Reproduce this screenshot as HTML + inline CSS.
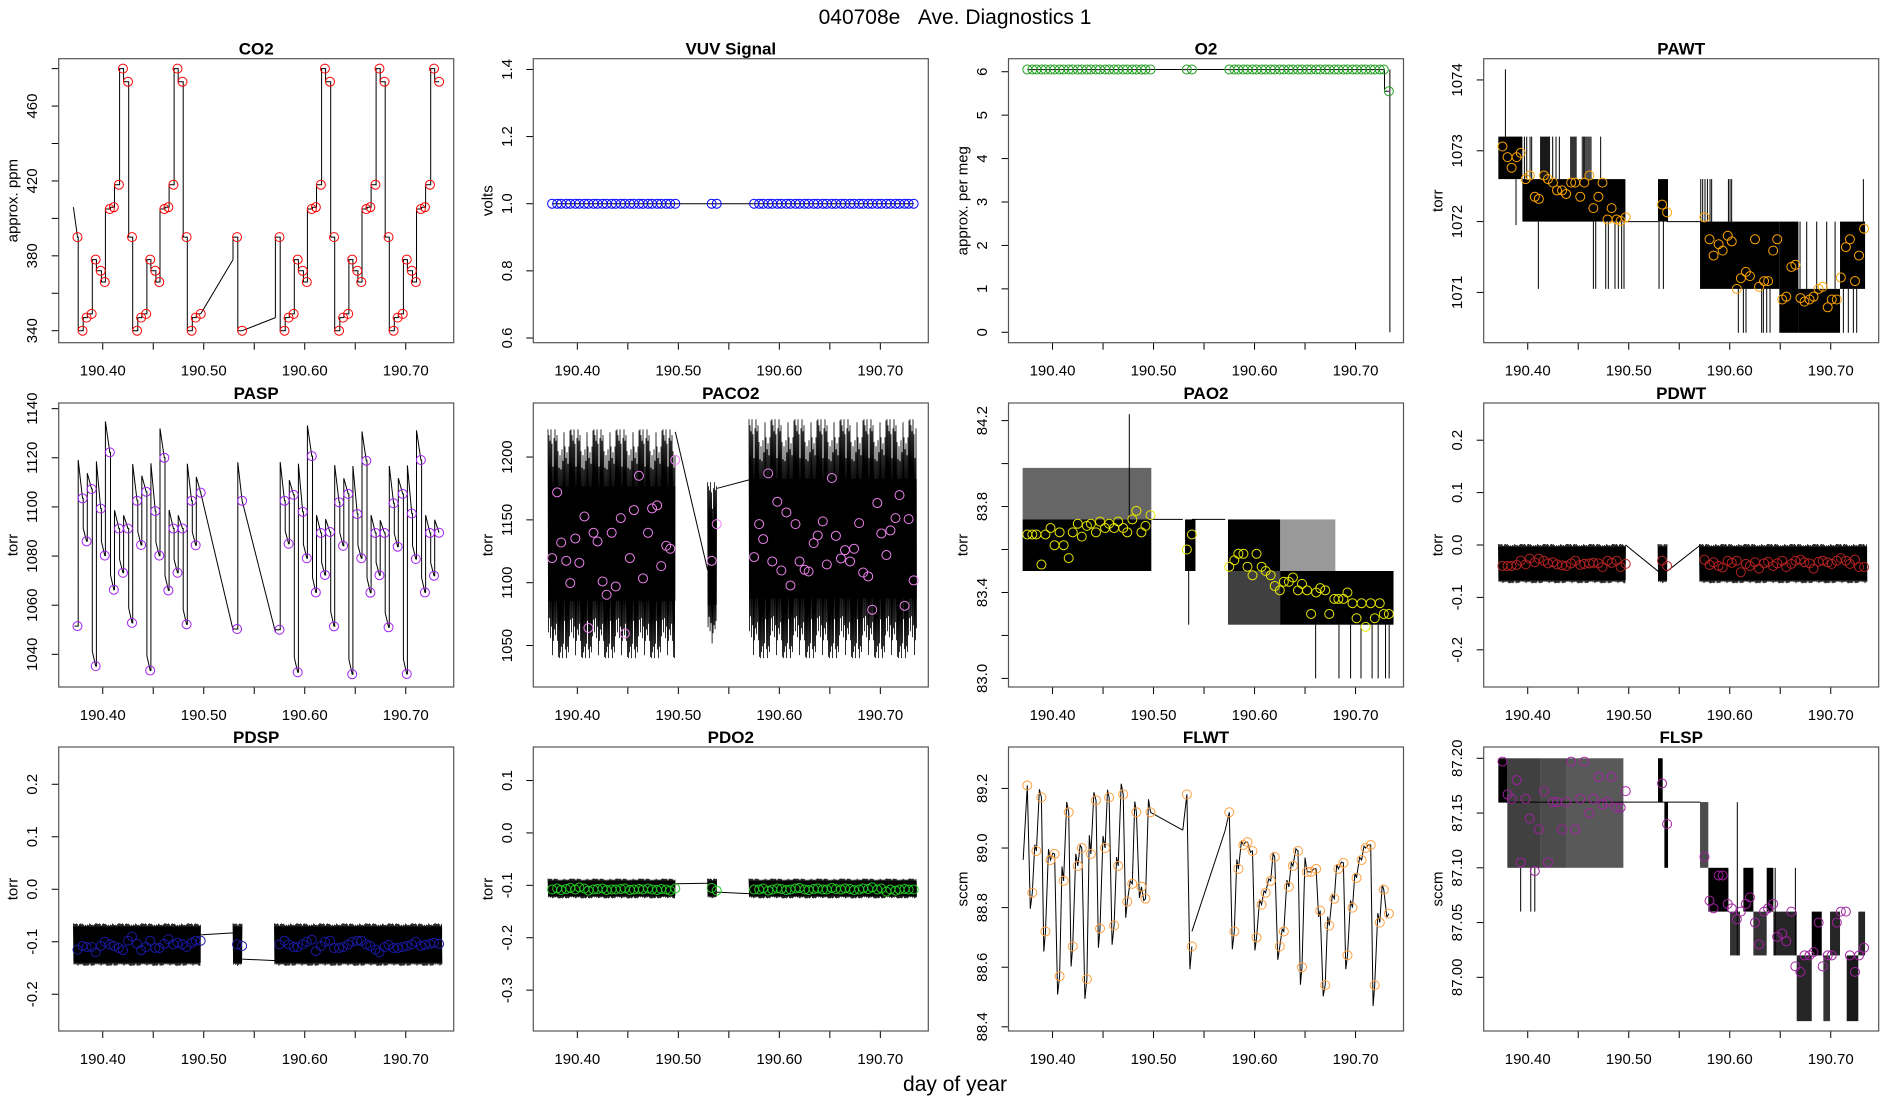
<!DOCTYPE html>
<html><head><meta charset="utf-8"><title>040708e Ave. Diagnostics 1</title>
<style>
html,body{margin:0;padding:0;background:#fff;}
svg{display:block;font-family:"Liberation Sans",Arial,sans-serif;}
</style></head>
<body>
<svg id="chart" width="1900" height="1100" viewBox="0 0 1900 1100" xmlns="http://www.w3.org/2000/svg">
<rect x="0" y="0" width="1900" height="1100" fill="#fff"/>
<text x="955" y="24" font-size="21" text-anchor="middle" fill="#000">040708e&#160;&#160;&#160;Ave. Diagnostics 1</text>
<text x="955" y="1091" font-size="21" text-anchor="middle" fill="#000">day of year</text>
</svg>
<script>
// ---------- shared sample times (day of year) ----------
const times = [190.375,190.380,190.384,190.389,190.393,190.398,190.402,190.407,190.411,190.416,190.420,190.425,190.429,190.434,190.438,190.443,190.447,190.452,190.456,190.461,190.465,190.470,190.474,190.479,190.483,190.488,190.492,190.497,
190.533,190.538,
190.575,190.580,190.584,190.589,190.593,190.598,190.602,190.607,190.611,190.616,190.620,190.625,190.629,190.634,190.638,190.643,190.647,190.652,190.656,190.661,190.665,190.670,190.674,190.679,190.683,190.688,190.692,190.697,190.701,190.706,190.710,190.715,190.719,190.724,190.728,190.733];
const segStarts = [0,28,30];
const segEnds = [27,29,65];
const gapTimes = [190.497,190.529,190.538,190.571];
const xTicks = [190.40,190.45,190.50,190.55,190.60,190.65,190.70];
const xTickLabels = ["190.40","","190.50","","190.60","","190.70"];

// ---------- series values ----------
const co2Vals = [390,340,347,349,378,372,366,405,406,418,480,473,390,340,347,349,378,372,366,405,406,418,480,473,390,340,347,349,
390,340,
390,340,347,349,378,372,366,405,406,418,480,473,390,340,347,349,378,372,366,405,406,418,480,473,390,340,347,349,378,372,366,405,406,418,480,473];
const co2Gap = [349,378,340,347];
const vuvVals = [1,1,1,1,1,1,1,1,1,1,1,1,1,1,1,1,1,1,1,1,1,1,1,1,1,1,1,1, 1,1, 1,1,1,1,1,1,1,1,1,1,1,1,1,1,1,1,1,1,1,1,1,1,1,1,1,1,1,1,1,1,1,1,1,1,1,1];
const vuvGap = [1,1,1,1];
const o2Vals = [6.05,6.05,6.05,6.05,6.05,6.05,6.05,6.05,6.05,6.05,6.05,6.05,6.05,6.05,6.05,6.05,6.05,6.05,6.05,6.05,6.05,6.05,6.05,6.05,6.05,6.05,6.05,6.05, 6.05,6.05, 6.05,6.05,6.05,6.05,6.05,6.05,6.05,6.05,6.05,6.05,6.05,6.05,6.05,6.05,6.05,6.05,6.05,6.05,6.05,6.05,6.05,6.05,6.05,6.05,6.05,6.05,6.05,6.05,6.05,6.05,6.05,6.05,6.05,6.05,6.05,5.55];
const o2Gap = [6.05,6.05,6.05,6.05];
const o2EndDrop = [190.734, 0];
const pawtVals = [1073.06,1072.91,1072.76,1072.91,1072.97,1072.60,1072.65,1072.35,1072.32,1072.65,1072.60,1072.55,1072.44,1072.44,1072.39,1072.55,1072.55,1072.35,1072.55,1072.65,1072.19,1072.35,1072.55,1072.03,1072.19,1072.03,1072.01,1072.06,
1072.24,1072.13,
1072.06,1071.75,1071.52,1071.68,1071.59,1071.80,1071.72,1071.05,1071.20,1071.29,1071.23,1071.75,1071.08,1071.16,1071.16,1071.59,1071.75,1070.90,1070.94,1071.36,1071.39,1070.92,1070.87,1070.90,1070.94,1071.05,1071.08,1070.79,1070.90,1070.90,1071.21,1071.64,1071.75,1071.16,1071.52,1071.90];
const pawtGap = [1072.0,1072.0,1072.0,1072.0];
const pawtBandT0 = [190.3709,190.3947,190.4122,190.4419,190.4534,190.5290,190.5706,190.6491,190.6680,190.7092];
const pawtBandT1 = [190.3947,190.4967,190.4221,190.4485,190.4633,190.5389,190.6491,190.6680,190.7092,190.7340];
const pawtBandLo = [1072.6,1072.0,1072.6,1072.6,1072.6,1072.0,1071.05,1070.43,1070.43,1071.05];
const pawtBandHi = [1073.2,1072.6,1073.2,1073.2,1073.2,1072.6,1072.0,1072.0,1071.05,1072.0];
const pawtBandOp = [1,1,0.9,0.8,0.7,1,1,1,1,1];
const pawtSpikeT = [190.3779,190.3967,190.3990,190.4023,190.4039,190.4247,190.4280,190.4313,190.4557,190.4722,190.3884,190.4105,190.4650,190.4673,190.4772,190.4798,190.4864,190.4897,190.4930,190.4953,190.5300,190.5343,190.5713,190.5732,190.5755,190.5779,190.5805,190.5821,190.5987,190.6003,190.6019,190.6085,190.6135,190.6161,190.6316,190.6333,190.6366,190.6399,190.7125,190.7174,190.7224,190.7257,190.6696,190.6762,190.6861,190.6960,190.7043,190.7323];
const pawtSpikeLo = [1073.2,1072.6,1072.6,1072.6,1072.6,1072.6,1072.6,1072.6,1072.6,1072.6,1071.95,1071.05,1071.05,1071.05,1071.05,1071.05,1071.05,1071.05,1071.05,1071.05,1071.05,1071.05,1072.0,1072.0,1072.0,1072.0,1072.0,1072.0,1072.0,1072.0,1072.0,1070.43,1070.43,1070.43,1070.43,1070.43,1070.43,1070.43,1070.43,1070.43,1070.43,1070.43,1071.05,1071.05,1071.05,1071.05,1071.05,1072.0];
const pawtSpikeHi = [1074.15,1073.2,1073.2,1073.2,1073.2,1073.2,1073.2,1073.2,1073.2,1073.2,1072.6,1072.0,1072.0,1072.0,1072.0,1072.0,1072.0,1072.0,1072.0,1072.0,1072.0,1072.0,1072.6,1072.6,1072.6,1072.6,1072.6,1072.6,1072.6,1072.6,1072.6,1071.05,1071.05,1071.05,1071.05,1071.05,1071.05,1071.05,1071.05,1071.05,1071.05,1071.05,1072.0,1072.0,1072.0,1072.0,1072.0,1072.6];
const paspVals = [1051.5,1103.5,1086.0,1107.3,1035.2,1099.3,1080.2,1122.2,1066.3,1091.2,1073.2,1091.2,1052.8,1102.5,1084.5,1106.2,1033.4,1098.3,1080.2,1120.0,1066.0,1091.2,1073.2,1091.2,1052.2,1102.5,1084.4,1105.8,
1050.3,1102.5,
1050.0,1102.5,1085.0,1104.9,1032.7,1098.0,1079.1,1120.7,1065.2,1089.4,1072.3,1089.8,1051.4,1101.9,1084.2,1105.3,1031.9,1097.1,1079.1,1118.8,1065.1,1089.4,1072.2,1089.4,1051.0,1101.5,1083.8,1105.3,1032.0,1097.3,1078.8,1119.1,1065.2,1089.4,1072.0,1089.5];
const paspGap = [1105.8,1050.0,1102.5,1049.0];
const paco2Vals = [1119.6,1171.9,1132.0,1117.4,1099.7,1135.2,1115.8,1152.7,1064.0,1139.7,1132.8,1101.0,1090.4,1139.7,1097.0,1151.4,1059.6,1119.6,1157.8,1185.1,1103.4,1139.7,1159.1,1161.5,1113.2,1129.4,1127.0,1197.6,
1117.4,1146.6,
1120.4,1146.6,1134.7,1187.0,1116.9,1164.4,1109.7,1155.9,1097.8,1146.6,1116.9,1110.3,1108.9,1131.5,1137.6,1148.8,1114.5,1183.3,1137.3,1119.3,1125.9,1116.9,1127.0,1147.4,1108.1,1105.0,1078.5,1163.4,1139.2,1122.0,1141.6,1151.4,1169.7,1081.6,1150.6,1101.8];
const paco2Gap = [1220,1110,1175,1182];
const paco2NoiseLo = [1040,1050,1040];
const paco2NoiseHi = [1222,1180,1230];
const pao2Vals = [83.67,83.67,83.67,83.53,83.67,83.70,83.62,83.68,83.62,83.56,83.68,83.72,83.66,83.71,83.72,83.68,83.73,83.70,83.72,83.70,83.73,83.70,83.68,83.74,83.78,83.68,83.71,83.76,
83.60,83.67,
83.52,83.55,83.58,83.58,83.52,83.48,83.58,83.52,83.50,83.48,83.43,83.41,83.45,83.45,83.47,83.41,83.44,83.41,83.30,83.40,83.42,83.41,83.30,83.37,83.37,83.37,83.40,83.35,83.28,83.35,83.24,83.35,83.28,83.35,83.30,83.30];
const pao2Gap = [83.74,83.74,83.74,83.74];
const pao2BandT0 = [190.3704,190.3704,190.5312,190.5737,190.5737,190.6253,190.6253];
const pao2BandT1 = [190.4978,190.4978,190.5415,190.6253,190.6253,190.7376,190.6800];
const pao2BandLo = [83.50,83.74,83.50,83.50,83.25,83.25,83.50];
const pao2BandHi = [83.74,83.98,83.74,83.74,83.50,83.50,83.74];
const pao2BandOp = [1,0.6,1,1,0.75,1,0.4];
const pao2SpikeT = [190.4760,190.5348,190.6605,190.6836,190.6951,190.7054,190.7164,190.7224,190.7297,190.7333];
const pao2SpikeLo = [83.74,83.25,83.0,83.0,83.0,83.0,83.0,83.0,83.0,83.0];
const pao2SpikeHi = [84.23,83.50,83.25,83.25,83.25,83.25,83.25,83.25,83.25,83.25];
const pdwtVals = [-0.040,-0.040,-0.040,-0.038,-0.030,-0.037,-0.026,-0.033,-0.026,-0.030,-0.035,-0.033,-0.037,-0.039,-0.040,-0.035,-0.030,-0.038,-0.036,-0.035,-0.034,-0.035,-0.042,-0.030,-0.034,-0.030,-0.042,-0.036,
-0.030,-0.040,
-0.028,-0.038,-0.033,-0.040,-0.043,-0.030,-0.034,-0.030,-0.052,-0.036,-0.040,-0.033,-0.045,-0.035,-0.032,-0.040,-0.035,-0.030,-0.042,-0.036,-0.030,-0.028,-0.033,-0.035,-0.045,-0.032,-0.030,-0.033,-0.036,-0.030,-0.025,-0.030,-0.036,-0.028,-0.042,-0.042];
const pdwtGap = [0.0,-0.05,-0.05,0.0];
const pdwtNoiseLo = [-0.073,-0.073,-0.073];
const pdwtNoiseHi = [0.002,0.002,0.002];
const pdspVals = [-0.115,-0.108,-0.110,-0.110,-0.120,-0.108,-0.100,-0.105,-0.108,-0.112,-0.116,-0.098,-0.090,-0.104,-0.116,-0.110,-0.098,-0.112,-0.112,-0.104,-0.095,-0.105,-0.102,-0.105,-0.110,-0.102,-0.098,-0.098,
-0.105,-0.108,
-0.105,-0.098,-0.105,-0.110,-0.110,-0.105,-0.100,-0.096,-0.118,-0.108,-0.100,-0.098,-0.112,-0.112,-0.110,-0.105,-0.100,-0.098,-0.098,-0.105,-0.108,-0.115,-0.120,-0.110,-0.106,-0.112,-0.112,-0.110,-0.108,-0.105,-0.100,-0.108,-0.106,-0.104,-0.102,-0.104];
const pdspGap = [-0.087,-0.083,-0.133,-0.136];
const pdspNoiseLo = [-0.146,-0.146,-0.146];
const pdspNoiseHi = [-0.065,-0.065,-0.065];
const pdo2Vals = [-0.108,-0.106,-0.109,-0.107,-0.105,-0.108,-0.104,-0.106,-0.110,-0.108,-0.107,-0.106,-0.109,-0.108,-0.108,-0.107,-0.106,-0.109,-0.108,-0.107,-0.108,-0.106,-0.108,-0.109,-0.107,-0.108,-0.110,-0.106,
-0.105,-0.110,
-0.108,-0.108,-0.106,-0.110,-0.108,-0.106,-0.107,-0.109,-0.108,-0.106,-0.105,-0.108,-0.109,-0.107,-0.106,-0.108,-0.108,-0.105,-0.107,-0.108,-0.106,-0.107,-0.109,-0.108,-0.106,-0.107,-0.104,-0.108,-0.106,-0.112,-0.108,-0.110,-0.108,-0.107,-0.108,-0.108];
const pdo2Gap = [-0.097,-0.096,-0.113,-0.116];
const pdo2NoiseLo = [-0.125,-0.125,-0.125];
const pdo2NoiseHi = [-0.087,-0.087,-0.087];
const flwtVals = [89.21,88.85,88.99,89.17,88.72,88.96,88.98,88.57,88.89,89.12,88.67,88.94,89.00,88.56,88.98,89.16,88.73,89.00,89.17,88.74,88.94,89.18,88.82,88.88,89.12,88.87,88.83,89.12,
89.18,88.67,
89.12,88.72,88.93,89.01,89.02,88.99,88.70,88.81,88.85,88.89,88.97,88.67,88.72,88.87,88.94,88.99,88.60,88.92,88.92,88.93,88.79,88.54,88.74,88.83,88.93,88.95,88.64,88.80,88.90,88.96,89.00,89.01,88.54,88.75,88.86,88.78];
const flwtGap = [89.12,89.06,88.72,89.06];
const flspVals = [87.197,87.167,87.163,87.180,87.105,87.163,87.145,87.097,87.135,87.170,87.105,87.160,87.160,87.135,87.160,87.197,87.135,87.163,87.197,87.150,87.163,87.183,87.158,87.160,87.183,87.155,87.155,87.170,
87.177,87.140,
87.110,87.070,87.063,87.093,87.093,87.067,87.063,87.053,87.060,87.067,87.073,87.050,87.030,87.060,87.063,87.067,87.037,87.040,87.033,87.060,87.010,87.005,87.020,87.020,87.023,87.050,87.010,87.020,87.020,87.050,87.060,87.060,87.020,87.005,87.020,87.027];
const flspGap = [87.16,87.16,87.16,87.16];
const flspBandT0 = [190.3709,190.3798,190.4122,190.4386,190.5290,190.5353,190.5706,190.5788,190.6003,190.6135,190.6234,190.6366,190.6432,190.6663,190.6812,190.6927,190.6993,190.7158,190.7273];
const flspBandT1 = [190.3798,190.4122,190.4386,190.4947,190.5336,190.5389,190.5788,190.5987,190.6102,190.6234,190.6366,190.6432,190.6663,190.6812,190.6911,190.6993,190.7092,190.7273,190.7340];
const flspBandLo = [87.16,87.10,87.10,87.10,87.16,87.10,87.10,87.06,87.02,87.06,87.02,87.06,87.02,86.96,87.02,86.96,87.02,86.96,87.02];
const flspBandHi = [87.20,87.20,87.20,87.20,87.20,87.16,87.16,87.10,87.06,87.10,87.06,87.10,87.06,87.02,87.06,87.02,87.06,87.02,87.06];
const flspBandOp = [1,0.75,0.7,0.65,1,1,0.7,1,0.8,1,0.8,1,0.85,0.85,1,0.8,0.85,0.9,0.85];
const flspSpikeT = [190.3930,190.4030,190.4070,190.6075,190.6450,190.6650];
const flspSpikeLo = [87.06,87.06,87.06,87.02,87.02,87.02];
const flspSpikeHi = [87.10,87.10,87.10,87.16,87.10,87.10];

// ---------- layout / style (not data) ----------
const NS = 'http://www.w3.org/2000/svg';
const svg = document.getElementById('chart');
const X0 = 190.3564, PXD = 1010, W = 395, H = 284;
const COLS = [58.7, 533.3, 1008.5, 1483.7], ROWS = [58.7, 403, 747];
const TEX = [1,0.55,0.9,0.3,0.8,0.65,1,0.45,0.75,0.95,0.35,0.7,0.85,0.5,1,0.6,0.8,0.4,0.9,0.7,0.62,0.98,0.33];

function el(tag, attrs, parent) {
  const e = document.createElementNS(NS, tag);
  for (const k in attrs) e.setAttribute(k, attrs[k]);
  parent.appendChild(e);
  return e;
}

function makePanel(p) {
  const g = el('g', {}, svg);
  
  
  const left = p.left, top = p.top, bottom = top + H;
  const xs = t => left + (t - X0) * PXD;
  const ys = v => top + (p.yMax - v) / (p.yMax - p.yMin) * H;
  const plot = el('g', {}, g);
  
  
  const tt = el('text', {x: left + W / 2, y: top - 4, 'font-size': 17, 'font-weight': 'bold', 'text-anchor': 'middle'}, g);
  tt.textContent = p.title;
  
  
  const yl = el('text', {x: left - 41, y: top + H / 2, 'font-size': 15, 'text-anchor': 'middle', transform: 'rotate(-90 ' + (left - 41) + ' ' + (top + H / 2) + ')'}, g);
  yl.textContent = p.ylab;
  
  
  const xa = el('g', {}, g);
  
  
  xTicks.forEach((t, i) => {
    const x = xs(t);
    const tk = el('line', {x1: x, x2: x, y1: bottom, y2: bottom + 7, stroke: '#000', 'stroke-width': 1}, xa);
    
    
    if (xTickLabels[i]) {
      const lb = el('text', {x: x, y: bottom + 33, 'font-size': 15, 'text-anchor': 'middle'}, xa);
      lb.textContent = xTickLabels[i];
      
      
    }
  });
  const ya = el('g', {}, g);
  
  
  p.yTicks.forEach((v, i) => {
    const y = ys(v);
    const tk = el('line', {x1: left - 7, x2: left, y1: y, y2: y, stroke: '#000', 'stroke-width': 1}, ya);
    
    
    if (p.yLabels[i]) {
      const lb = el('text', {x: left - 21.5, y: y, 'font-size': 15, 'text-anchor': 'middle', transform: 'rotate(-90 ' + (left - 21.5) + ' ' + y + ')'}, ya);
      lb.textContent = p.yLabels[i];
      
      
    }
  });
  return {g: plot, xs, ys, left, top, bottom, p};
}

function drawBox(P) {
  const b = el('rect', {x: P.left, y: P.top, width: W, height: H, fill: 'none', stroke: '#555', 'stroke-width': 1.2}, P.g.parentNode);
  
  
}

function drawGapLines(P, gap) {
  [[0, 1], [2, 3]].forEach(([a, b]) => {
    const l = el('line', {x1: P.xs(gapTimes[a]), y1: P.ys(gap[a]), x2: P.xs(gapTimes[b]), y2: P.ys(gap[b]), stroke: '#000', 'stroke-width': 1}, P.g);
    
    
  });
}

function drawCircles(P, vals, color) {
  const cg = el('g', {}, P.g);
  
  
  vals.forEach((v, i) => {
    const c = el('circle', {cx: P.xs(times[i]), cy: P.ys(v), r: 4.5, fill: 'none', stroke: color, 'stroke-width': 1}, cg);
    
    
  });
}

function drawStepLine(P, vals, gap, over, startPt) {
  const dt = 0.00452;
  let d = '';
  segStarts.forEach((s, k) => {
    const e = segEnds[k];
    let pts = [];
    if (k === 0 && startPt) pts.push([startPt[0], startPt[1]]);
    if (k > 0) { pts.push([gapTimes[2 * k - 1], gap[2 * k - 1]]); pts.push([gapTimes[2 * k - 1], vals[s]]); }
    pts.push([times[s], vals[s]]);
    for (let i = s; i < e; i++) {
      const a = vals[i], b = vals[i + 1], tj = times[i] + 0.15 * dt;
      let peak = b;
      if (over) peak = b > a ? b + over * (b - a) : b + Math.min(6, over * (a - b));
      pts.push([tj, a]); pts.push([tj, peak]); pts.push([times[i + 1], b]);
    }
    d += 'M' + pts.map(q => P.xs(q[0]).toFixed(1) + ',' + P.ys(q[1]).toFixed(1)).join('L');
  });
  const path = el('path', {d: d, fill: 'none', stroke: '#000', 'stroke-width': 1}, P.g);
  
  
  drawGapLines(P, gap);
}

function drawZigLine(P, vals, gap, start) {
  let d = '';
  segStarts.forEach((s, k) => {
    const e = segEnds[k];
    let pts = [];
    if (k === 0 && start) pts.push(start);
    if (k > 0) pts.push([gapTimes[2 * k - 1], gap[2 * k - 1]]);
    for (let i = s; i <= e; i++) {
      pts.push([times[i], vals[i]]);
      if (i < e) {
        const a = vals[i], b = vals[i + 1];
        pts.push([times[i] + 0.6 * (times[i + 1] - times[i]), b + 0.15 * (b - a)]);
      }
    }
    d += 'M' + pts.map(q => P.xs(q[0]).toFixed(1) + ',' + P.ys(q[1]).toFixed(1)).join('L');
  });
  const path = el('path', {d: d, fill: 'none', stroke: '#000', 'stroke-width': 1}, P.g);
  
  
  drawGapLines(P, gap);
}

function drawBands(P, t0, t1, lo, hi, op) {
  t0.forEach((t, i) => {
    const x = P.xs(t), y = P.ys(hi[i]);
    const r = el('rect', {x: x, y: y, width: Math.max(1, P.xs(t1[i]) - x), height: P.ys(lo[i]) - y, fill: '#000', 'fill-opacity': op[i]}, P.g);
    
    
  });
}

function drawSpikes(P, ts, lo, hi) {
  ts.forEach((t, i) => {
    const x = P.xs(t);
    const l = el('line', {x1: x, x2: x, y1: P.ys(lo[i]), y2: P.ys(hi[i]), stroke: '#000', 'stroke-width': 1}, P.g);
    
    
  });
}

function drawNoise(P, lo, hi, floor) {
  const segT = [[190.371, 190.497], [190.529, 190.538], [190.570, 190.736]];
  segT.forEach((st, k) => {
    const xa = P.xs(st[0]), xb = P.xs(st[1]);
    const mid = (lo[k] + hi[k]) / 2, half = (hi[k] - lo[k]) / 2;
    const core = el('rect', {x: xa, y: P.ys(mid + half * floor), width: xb - xa, height: P.ys(mid - half * floor) - P.ys(mid + half * floor), fill: '#000'}, P.g);
    
    
    let pts = [], j = 0;
    for (let x = xa; x <= xb; x += 0.5, j++) {
      const f = floor + (1 - floor) * TEX[j % TEX.length];
      const v = j % 2 ? mid - half * f : mid + half * f;
      pts.push(x.toFixed(1) + ',' + P.ys(v).toFixed(1));
    }
    const pl = el('polyline', {points: pts.join(' '), fill: 'none', stroke: '#000', 'stroke-width': 0.8}, P.g);
    
    
  });
}

// ---------- panels ----------
let P;
P = makePanel({id: 'co2', title: 'CO2', ylab: 'approx. ppm', left: COLS[0], top: ROWS[0], yMin: 333.6, yMax: 485.3,
  yTicks: [340,360,380,400,420,440,460,480], yLabels: ['340','','380','','420','','460','']});
drawStepLine(P, co2Vals, co2Gap, 0, [190.371, 406]);
drawCircles(P, co2Vals, '#ff0000'); drawBox(P);

P = makePanel({id: 'vuv-signal', title: 'VUV Signal', ylab: 'volts', left: COLS[1], top: ROWS[0], yMin: 0.586, yMax: 1.432,
  yTicks: [0.6,0.8,1.0,1.2,1.4], yLabels: ['0.6','0.8','1.0','1.2','1.4']});
drawStepLine(P, vuvVals, vuvGap, 0, null);
drawCircles(P, vuvVals, '#0000ff'); drawBox(P);

P = makePanel({id: 'o2', title: 'O2', ylab: 'approx. per meg', left: COLS[2], top: ROWS[0], yMin: -0.24, yMax: 6.3,
  yTicks: [0,1,2,3,4,5,6], yLabels: ['0','1','2','3','4','5','6']});
drawStepLine(P, o2Vals, o2Gap, 0, null);
(function () {
  const l = el('line', {x1: P.xs(o2EndDrop[0]), x2: P.xs(o2EndDrop[0]), y1: P.ys(6.05), y2: P.ys(o2EndDrop[1]), stroke: '#000', 'stroke-width': 1}, P.g);
  
  
})();
drawCircles(P, o2Vals, '#22a022'); drawBox(P);

P = makePanel({id: 'pawt', title: 'PAWT', ylab: 'torr', left: COLS[3], top: ROWS[0], yMin: 1070.29, yMax: 1074.30,
  yTicks: [1071,1072,1073,1074], yLabels: ['1071','1072','1073','1074']});
drawBands(P, pawtBandT0, pawtBandT1, pawtBandLo, pawtBandHi, pawtBandOp);
drawSpikes(P, pawtSpikeT, pawtSpikeLo, pawtSpikeHi);
drawGapLines(P, pawtGap);
drawCircles(P, pawtVals, '#ffa500'); drawBox(P);

P = makePanel({id: 'pasp', title: 'PASP', ylab: 'torr', left: COLS[0], top: ROWS[1], yMin: 1026.7, yMax: 1142.3,
  yTicks: [1040,1060,1080,1100,1120,1140], yLabels: ['1040','1060','1080','1100','1120','1140']});
drawStepLine(P, paspVals, paspGap, 0.3, [190.372, 1051.5]);
drawCircles(P, paspVals, '#a020f0'); drawBox(P);

P = makePanel({id: 'paco2', title: 'PACO2', ylab: 'torr', left: COLS[1], top: ROWS[1], yMin: 1017, yMax: 1243,
  yTicks: [1050,1100,1150,1200], yLabels: ['1050','1100','1150','1200']});
drawNoise(P, paco2NoiseLo, paco2NoiseHi, 0.5);
drawGapLines(P, paco2Gap);
drawCircles(P, paco2Vals, '#ee82ee'); drawBox(P);

P = makePanel({id: 'pao2', title: 'PAO2', ylab: 'torr', left: COLS[2], top: ROWS[1], yMin: 82.96, yMax: 84.282,
  yTicks: [83.0,83.2,83.4,83.6,83.8,84.0,84.2], yLabels: ['83.0','','83.4','','83.8','','84.2']});
drawBands(P, pao2BandT0, pao2BandT1, pao2BandLo, pao2BandHi, pao2BandOp);
drawSpikes(P, pao2SpikeT, pao2SpikeLo, pao2SpikeHi);
drawGapLines(P, pao2Gap);
drawCircles(P, pao2Vals, '#e6e600'); drawBox(P);

P = makePanel({id: 'pdwt', title: 'PDWT', ylab: 'torr', left: COLS[3], top: ROWS[1], yMin: -0.271, yMax: 0.271,
  yTicks: [-0.2,-0.1,0,0.1,0.2], yLabels: ['-0.2','-0.1','0.0','0.1','0.2']});
drawNoise(P, pdwtNoiseLo, pdwtNoiseHi, 0.85);
drawGapLines(P, pdwtGap);
drawCircles(P, pdwtVals, '#b22222'); drawBox(P);

P = makePanel({id: 'pdsp', title: 'PDSP', ylab: 'torr', left: COLS[0], top: ROWS[2], yMin: -0.270, yMax: 0.271,
  yTicks: [-0.2,-0.1,0,0.1,0.2], yLabels: ['-0.2','-0.1','0.0','0.1','0.2']});
drawNoise(P, pdspNoiseLo, pdspNoiseHi, 0.85);
drawGapLines(P, pdspGap);
drawCircles(P, pdspVals, '#1a1aa0'); drawBox(P);

P = makePanel({id: 'pdo2', title: 'PDO2', ylab: 'torr', left: COLS[1], top: ROWS[2], yMin: -0.378, yMax: 0.164,
  yTicks: [-0.3,-0.2,-0.1,0,0.1], yLabels: ['-0.3','-0.2','-0.1','0.0','0.1']});
drawNoise(P, pdo2NoiseLo, pdo2NoiseHi, 0.75);
drawGapLines(P, pdo2Gap);
drawCircles(P, pdo2Vals, '#22cc22'); drawBox(P);

P = makePanel({id: 'flwt', title: 'FLWT', ylab: 'sccm', left: COLS[2], top: ROWS[2], yMin: 88.386, yMax: 89.339,
  yTicks: [88.4,88.6,88.8,89.0,89.2], yLabels: ['88.4','88.6','88.8','89.0','89.2']});
drawZigLine(P, flwtVals, flwtGap, [190.371, 88.96]);
drawCircles(P, flwtVals, '#ffa040'); drawBox(P);

P = makePanel({id: 'flsp', title: 'FLSP', ylab: 'sccm', left: COLS[3], top: ROWS[2], yMin: 86.951, yMax: 87.2103,
  yTicks: [87.00,87.05,87.10,87.15,87.20], yLabels: ['87.00','87.05','87.10','87.15','87.20']});
drawBands(P, flspBandT0, flspBandT1, flspBandLo, flspBandHi, flspBandOp);
drawSpikes(P, flspSpikeT, flspSpikeLo, flspSpikeHi);
(function () {
  const l = el('line', {x1: P.xs(190.371), x2: P.xs(gapTimes[3]), y1: P.ys(flspGap[0]), y2: P.ys(flspGap[3]), stroke: '#000', 'stroke-width': 1}, P.g);
  
  
})();
drawCircles(P, flspVals, '#a020a0'); drawBox(P);
</script>
</body></html>
